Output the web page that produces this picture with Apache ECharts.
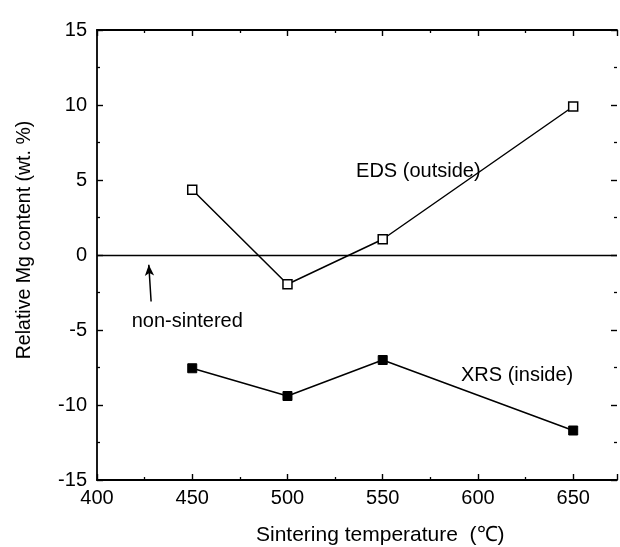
<!DOCTYPE html>
<html>
<head>
<meta charset="utf-8">
<script src="https://cdn.jsdelivr.net/npm/echarts@6/dist/echarts.min.js"></script>
<style>
html,body{margin:0;padding:0;background:#fff;overflow:hidden;}
#c{width:620px;height:547px;}
</style>
</head>
<body>
<div id="c"></div>
<script>
var temperatures = [450, 500, 550, 650];
var edsOutside = [4.35, -1.95, 1.05, 9.9];
var xrsInside = [-7.55, -9.4, -7.0, -11.7];
var xTicks = [400, 450, 500, 550, 600, 650];
var yTicks = [-15, -10, -5, 0, 5, 10, 15];
var xRange = [400, 673];
var yRange = [-15, 15];
var arrowFrom = [428.4, -3.1];
var arrowTo = [427.2, -0.65];
var notes = [
  {text: 'EDS (outside)', at: [536.0, 5.6]},
  {text: 'XRS (inside)', at: [591.1, -8.0]},
  {text: 'non-sintered', at: [418.2, -4.4]}
];
var xTitle = 'Sintering temperature  (\u2103)';
var yTitle = 'Relative Mg content (wt. %)';

var FONT = '"Liberation Sans", Arial, Helvetica, sans-serif';
var chart = echarts.init(document.getElementById('c'), null, {renderer: 'canvas'});

function pairs(xs, ys){ return xs.map(function(x,i){ return [x, ys[i]]; }); }

var axisLineStyle = {color: '#000', width: 1.8};
function axisCommon(extra){
  var base = {
    type: 'value',
    axisLine: {show: true, onZero: false, lineStyle: axisLineStyle},
    axisTick: {show: true, inside: true, length: 6, lineStyle: {color: '#000', width: 1.4}},
    minorTick: {show: true, splitNumber: 2, length: 3, lineStyle: {color: '#000', width: 1.3}},
    splitLine: {show: false}
  };
  for (var k in extra) base[k] = extra[k];
  return base;
}
var option = {
  animation: false,
  backgroundColor: '#fff',
  grid: {left: 97, top: 30, width: 526, height: 450, containLabel: false},
  xAxis: [
    axisCommon({min: xRange[0], max: xRange[1], interval: 50, position: 'bottom',
      axisLabel: {color: '#000', fontFamily: FONT, fontSize: 20, margin: 8,
        formatter: function(v){ return xTicks.indexOf(v) >= 0 ? String(v) : ''; }}}),
    axisCommon({min: xRange[0], max: xRange[1], interval: 50, position: 'top',
      axisLabel: {show: false}})
  ],
  yAxis: [
    axisCommon({min: yRange[0], max: yRange[1], interval: 5, position: 'left',
      axisLabel: {color: '#000', fontFamily: FONT, fontSize: 20, margin: 10,
        formatter: function(v){ return yTicks.indexOf(v) >= 0 ? String(v) : ''; }}}),
    axisCommon({min: yRange[0], max: yRange[1], interval: 5, position: 'right',
      axisLine: {show: false},
      axisLabel: {show: false}})
  ],
  series: [{
    name: 'zero', type: 'line', data: [], silent: true,
    markLine: {
      silent: true, symbol: ['none', 'none'],
      label: {show: false},
      lineStyle: {color: '#000', width: 1.3, type: 'solid'},
      data: [{yAxis: 0}]
    }
  }, {
    name: 'arrow', type: 'line', data: [], silent: true,
    markLine: {
      silent: true, symbol: ['none', 'arrow'], symbolSize: [7, 11],
      label: {show: false},
      lineStyle: {color: '#000', width: 1.5, type: 'solid'},
      data: [[{coord: arrowFrom}, {coord: arrowTo}]]
    }
  }, {
    name: 'EDS (outside)', type: 'line',
    data: pairs(temperatures, edsOutside),
    symbol: 'rect', symbolSize: 9,
    lineStyle: {color: '#000', width: 1.5},
    itemStyle: {color: '#fff', borderColor: '#000', borderWidth: 1.5},
    z: 3
  }, {
    name: 'XRS (inside)', type: 'line',
    data: pairs(temperatures, xrsInside),
    symbol: 'rect', symbolSize: 9,
    lineStyle: {color: '#000', width: 1.5},
    itemStyle: {color: '#000', borderColor: '#000', borderWidth: 1},
    z: 3
  }]
};
chart.setOption(option);

var gfx = notes.map(function(n){
  var p = chart.convertToPixel({xAxisIndex: 0, yAxisIndex: 0}, n.at);
  return {type: 'text', x: p[0], y: p[1], z: 10,
    style: {text: n.text, fill: '#000', font: '20px ' + FONT, textAlign: 'left', textVerticalAlign: 'middle'}};
});
gfx.push({type: 'text', x: 256, y: 535, z: 10,
  style: {text: xTitle, fill: '#000', font: '21px ' + FONT, textAlign: 'left', textVerticalAlign: 'middle'}});
gfx.push({type: 'text', x: 25, y: 240, rotation: Math.PI / 2, z: 10,
  style: {text: yTitle, fill: '#000', font: '19.5px ' + FONT, textAlign: 'center', textVerticalAlign: 'middle'}});
chart.setOption({graphic: gfx});
</script>
</body>
</html>
